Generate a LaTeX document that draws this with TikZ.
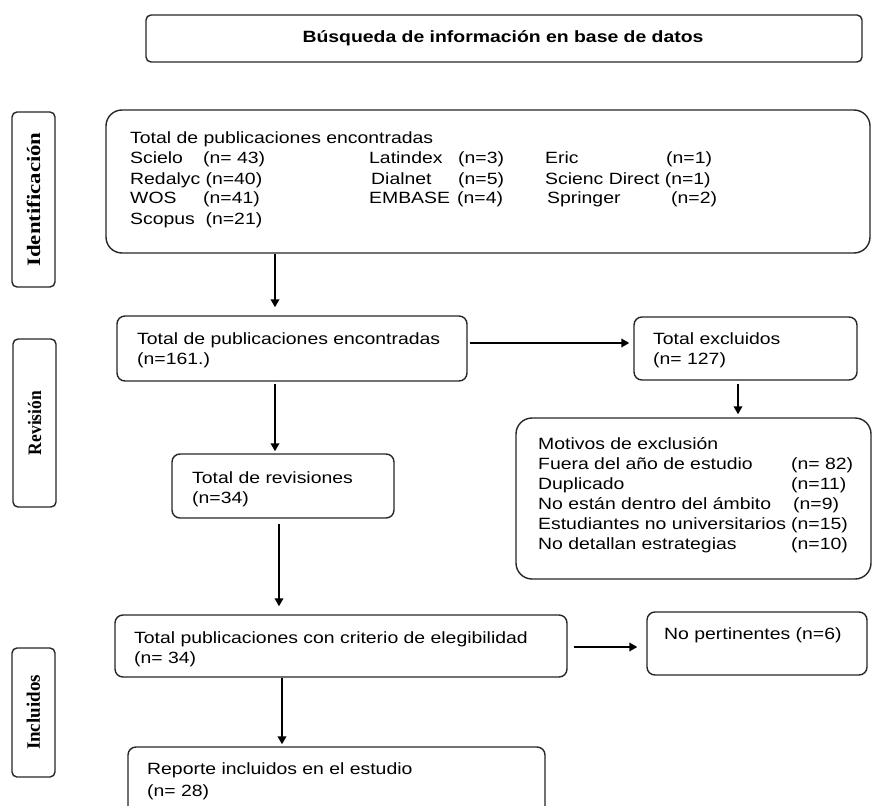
\documentclass[tikz,border=0pt]{standalone}
\usepackage{fontspec}
\setmainfont{Liberation Sans}[FakeStretch=1.19]
\newfontfamily\lblfont{Liberation Serif}
\usetikzlibrary{arrows.meta}
\tikzset{
  box/.style={draw=black!85, line width=1.4pt, rounded corners=8pt, inner sep=0pt, fill=white},
  bigbox/.style={box, rounded corners=16pt},
  lblbox/.style={box, rounded corners=5pt, minimum width=43pt},
  lbltext/.style={rotate=90, inner sep=0pt, font=\lblfont\bfseries\fontsize{19}{19}\selectfont},
  txt/.style={anchor=base west, inner sep=0pt, font=\fontsize{16.3}{20}\selectfont},
  arr/.style={line width=2.1pt, -{Triangle[length=8pt,width=8.5pt]}}
}
\begin{document}
\begin{tikzpicture}[x=1pt,y=-1pt]
\useasboundingbox (0,0) rectangle (877,805);
\clip (0,0) rectangle (877,805);
% top
\node[box, rounded corners=5pt, minimum width=716pt, minimum height=47pt] (top) at (504,38.5) {};
\node[inner sep=0pt, font=\bfseries\fontsize{16.3}{20}\selectfont] (toptxt) at (503,38) {Búsqueda de información en base de datos};
% side labels
\node[lblbox, minimum height=175pt] (idb) at (33.5,199.5) {};
\node[lbltext] (idt) at (idb.center) {\scalebox{1.2}[1]{Identificación}};
\node[lblbox, minimum height=168pt] (rvb) at (34.5,423) {};
\node[lbltext] (rvt) at (rvb.center) {\scalebox{0.92}[1]{Revisión}};
\node[lblbox, minimum height=129pt] (inb) at (33.5,712.5) {};
\node[lbltext] (intt) at (inb.center) {\scalebox{1.0}[1]{Incluidos}};
% big box
\node[bigbox, minimum width=764pt, minimum height=143pt] (b1) at (488,181.5) {};
\node[txt] (t0) at (130,144) {Total de publicaciones encontradas};
\node[txt] (t1a) at (130,164) {Scielo};
\node[txt] (t1b) at (203,164) {(n= 43)};
\node[txt] (t2a) at (130,184) {Redalyc (n=40)};
\node[txt] (t3a) at (130,204) {WOS};
\node[txt] (t3b) at (203,204) {(n=41)};
\node[txt] (t4a) at (130,224) {Scopus\ \ (n=21)};
\node[txt] (t1c) at (369,164) {Latindex};
\node[txt] (t1d) at (458,164) {(n=3)};
\node[txt] (t2c) at (371,184) {Dialnet};
\node[txt] (t2d) at (458,184) {(n=5)};
\node[txt] (t3c) at (369,204) {EMBASE};
\node[txt] (t3d) at (457,204) {(n=4)};
\node[txt] (t1e) at (545,164) {Eric};
\node[txt] (t1f) at (666,164) {(n=1)};
\node[txt] (t2e) at (545,184) {Scienc Direct (n=1)};
\node[txt] (t3e) at (547,204) {Springer};
\node[txt] (t3f) at (671,204) {(n=2)};
% revision row
\node[box, minimum width=350pt, minimum height=65pt] (b2) at (292,348.5) {};
\node[txt] (b2a) at (137,344) {Total de publicaciones encontradas};
\node[txt] (b2b) at (137,364) {(n=161.)};
\node[box, minimum width=223pt, minimum height=63pt] (exc) at (745.5,348.5) {};
\node[txt] (exa) at (653,344) {Total excluidos};
\node[txt] (exb) at (653,364) {(n= 127)};
\node[bigbox, minimum width=355pt, minimum height=161pt] (mot) at (693.5,498.5) {};
\node[txt] (m0) at (538,449) {Motivos de exclusión};
\node[txt] (m1) at (538,469) {Fuera del año de estudio};
\node[txt] (m1n) at (791,469) {(n= 82)};
\node[txt] (m2) at (538,489) {Duplicado};
\node[txt] (m2n) at (791,489) {(n=11)};
\node[txt] (m3) at (538,509) {No están dentro del ámbito};
\node[txt] (m3n) at (793,509) {(n=9)};
\node[txt] (m4) at (538,529) {Estudiantes no universitarios};
\node[txt] (m4n) at (791,529) {(n=15)};
\node[txt] (m5) at (538,549) {No detallan estrategias};
\node[txt] (m5n) at (791,549) {(n=10)};
\node[box, minimum width=222pt, minimum height=64pt] (rev) at (283,486) {};
\node[txt] (rva) at (192,483) {Total de revisiones};
\node[txt] (rvb2) at (192,503) {(n=34)};
% included
\node[box, minimum width=452pt, minimum height=62pt] (eli) at (341,646) {};
\node[txt] (ela) at (134,643) {Total publicaciones con criterio de elegibilidad};
\node[txt] (elb) at (134,663) {(n= 34)};
\node[box, minimum width=220pt, minimum height=63pt] (nop) at (757,643.5) {};
\node[txt] (npa) at (664,639) {No pertinentes (n=6)};
\node[box, minimum width=417pt, minimum height=70pt] (rep) at (336.5,782) {};
\node[txt] (rpa) at (147,774) {Reporte incluidos en el estudio};
\node[txt] (rpb) at (147,796) {(n= 28)};
% arrow guide coordinates
\coordinate (xa1) at (275,0);
\coordinate (xa3) at (279,0);
\coordinate (xa4) at (282,0);
\coordinate (xa6) at (738,0);
\coordinate (ya5) at (0,343);
\coordinate (ya7) at (0,647);
% arrows
\draw[arr, shorten >=8pt] (xa1 |- b1.south) -- (xa1 |- b2.north);
\draw[arr, shorten <=2pt, shorten >=2pt] (xa1 |- b2.south) -- (xa1 |- rev.north);
\draw[arr, shorten <=5pt, shorten >=8pt] (xa3 |- rev.south) -- (xa3 |- eli.north);
\draw[arr, shorten >=2pt] (xa4 |- eli.south) -- (xa4 |- rep.north);
\draw[arr, shorten <=2pt, shorten >=4pt] (b2.east |- ya5) -- (exc.west |- ya5);
\draw[arr, shorten <=3pt, shorten >=3pt] (xa6 |- exc.south) -- (xa6 |- mot.north);
\draw[arr, shorten <=6pt, shorten >=9pt] (eli.east |- ya7) -- (nop.west |- ya7);
\end{tikzpicture}
\end{document}
